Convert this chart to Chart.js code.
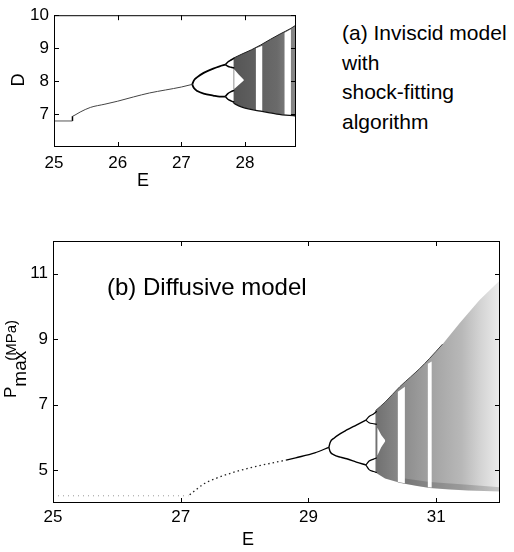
<!DOCTYPE html>
<html>
<head>
<meta charset="utf-8">
<script src="https://cdn.jsdelivr.net/npm/chart.js@4.4.1/dist/chart.umd.min.js"></script>
<style>
  html, body { margin: 0; padding: 0; background: #fff; }
  body { width: 514px; height: 552px; position: relative; overflow: hidden;
         font-family: "Liberation Sans", Arial, sans-serif; color: #000; }
  .wrap { position: absolute; }
  .txt { position: absolute; white-space: nowrap; }
</style>
</head>
<body>
<div class="wrap" style="left:0;top:0;width:300px;height:200px"><canvas id="chartA"></canvas></div>
<div class="wrap" style="left:0;top:220px;width:514px;height:332px"><canvas id="chartB"></canvas></div>

<div class="txt" style="left:342px;top:18px;font-size:21px;line-height:29.5px">(a) Inviscid model<br>with<br>shock-fitting<br>algorithm</div>
<div class="txt" style="left:107px;top:275px;font-size:24px;line-height:24px">(b) Diffusive model</div>
<div class="txt" style="left:143px;top:171px;font-size:18px;line-height:18px;transform:translateX(-50%)">E</div>
<div class="txt" style="left:248px;top:530px;font-size:18px;line-height:18px;transform:translateX(-50%)">E</div>
<div class="txt" style="left:18px;top:80px;font-size:18px;line-height:18px;transform:translate(-50%,-50%) rotate(-90deg)">D</div>
<div class="txt" style="left:0px;top:398px;font-size:17px;line-height:20px;transform-origin:0 0;transform:rotate(-90deg)">P<span style="position:relative;top:10px;font-size:19px">max</span><span style="font-size:15px;margin-left:-10px">(MPa)</span></div>

<script>
// (a) inviscid model, shock-fitting
const aTicksE = [25, 26, 27, 28];
const aTicksD = [7, 8, 9, 10];
const aFlatE = [25.0, 25.29];
const aFlatD = [6.79, 6.79];
const aJumpE = [25.29, 25.29];
const aJumpD = [6.79, 6.93];
const aMainE = [25.29, 25.33, 25.41, 25.57, 25.8, 26.0, 26.25, 26.5, 26.75, 27.0, 27.17];
const aMainD = [6.93, 6.97, 7.06, 7.2, 7.3, 7.39, 7.52, 7.64, 7.73, 7.82, 7.9];
const aP2E = [27.17, 27.2, 27.25, 27.35, 27.5, 27.6, 27.69];
const aP2UpD = [7.9, 8.03, 8.12, 8.25, 8.38, 8.45, 8.5];
const aP2LoD = [7.9, 7.78, 7.7, 7.62, 7.56, 7.53, 7.53];
const aP4E = [27.69, 27.73, 27.78, 27.83];
const aP4UpTopD = [8.5, 8.58, 8.64, 8.7];
const aP4UpBotD = [8.5, 8.45, 8.42, 8.4];
const aP4LoTopD = [7.53, 7.62, 7.68, 7.72];
const aP4LoBotD = [7.53, 7.45, 7.4, 7.36];
const aChaosTopE = [27.82, 27.95, 28.1, 28.24, 28.4, 28.55, 28.72, 28.8];
const aChaosTopD = [8.7, 8.82, 8.95, 9.09, 9.27, 9.43, 9.6, 9.7];
const aChaosBotE = [27.82, 27.9, 28.0, 28.24, 28.5, 28.8];
const aChaosBotD = [7.33, 7.25, 7.18, 7.09, 7.0, 6.94];
const aGapE = [27.83, 27.9, 27.98];
const aGapTopD = [8.36, 8.2, 8.04];
const aGapBotD = [7.76, 7.88, 8.02];
const aWindowE = [[28.17, 28.27], [28.62, 28.72]];
const aWindowTopD = [[9.0, 9.07], [9.47, 9.57]];
const aWindowBotD = [[7.12, 7.09], [6.98, 6.96]];

// (b) diffusive model
const bTicksE = [25, 27, 29, 31];
const bTicksP = [5, 7, 9, 11];
const bFlatE = [25.0, 27.12];
const bFlatP = [4.22, 4.22];
const bRiseE = [27.14, 27.25, 27.35, 27.55, 27.8, 28.1, 28.5, 28.65];
const bRiseP = [4.25, 4.42, 4.57, 4.75, 4.92, 5.08, 5.25, 5.31];
const bMainE = [28.65, 28.8, 29.1, 29.32];
const bMainP = [5.31, 5.38, 5.53, 5.7];
const bP2E = [29.32, 29.34, 29.4, 29.5, 29.6, 29.75, 29.9];
const bP2UpP = [5.7, 5.85, 5.98, 6.12, 6.23, 6.38, 6.53];
const bP2LoP = [5.7, 5.57, 5.47, 5.4, 5.35, 5.25, 5.16];
const bP4E = [29.9, 29.95, 30.02, 30.07];
const bP4UpTopP = [6.53, 6.64, 6.72, 6.8];
const bP4UpBotP = [6.53, 6.45, 6.42, 6.4];
const bP4LoTopP = [5.16, 5.28, 5.34, 5.38];
const bP4LoBotP = [5.16, 5.02, 4.96, 4.93];
const bChaosTopE = [30.05, 30.2, 30.43, 30.6, 30.74, 30.9, 31.1, 31.37, 31.68, 32.0];
const bChaosTopP = [6.82, 7.08, 7.55, 7.85, 8.1, 8.42, 8.85, 9.5, 10.2, 10.8];
const bChaosBotE = [30.05, 30.2, 30.43, 30.7, 30.9, 31.2, 31.5, 32.0];
const bChaosBotP = [4.93, 4.75, 4.62, 4.52, 4.46, 4.41, 4.38, 4.35];
const bEdgeE = [30.05, 30.2, 30.43, 30.6, 30.74, 30.9, 31.1];
const bEdgeP = [6.82, 7.08, 7.55, 7.85, 8.1, 8.42, 8.85];
const bBandE = [30.4, 30.9, 31.5, 32.0];
const bBandTopP = [4.78, 4.64, 4.56, 4.48];
const bBandBotP = [4.62, 4.46, 4.38, 4.35];
const bGapE = [30.08, 30.14, 30.2];
const bGapTopP = [6.3, 6.08, 5.92];
const bGapBotP = [5.45, 5.7, 5.88];
const bWindowE = [[30.4, 30.51], [30.87, 30.93]];
const bWindowTopP = [[7.4, 7.55], [8.25, 8.32]];
const bWindowBotP = [[4.64, 4.6], [4.48, 4.47]];

const FONT = "'Liberation Sans', Arial, sans-serif";

function pts(xs, ys) {
  return xs.map((v, i) => ({ x: v, y: ys[i] }));
}

function poly(topX, topY, botX, botY) {
  return pts(topX, topY).concat(pts(botX, botY).reverse());
}

function curve(data, color, width, extra) {
  return Object.assign({
    data, showLine: true, borderColor: color, borderWidth: width,
    pointRadius: 0, pointHoverRadius: 0, fill: false,
    cubicInterpolationMode: "monotone", order: 1
  }, extra || {});
}

function area(data, color, order) {
  return {
    data, showLine: true, borderWidth: 0, borderColor: "rgba(0,0,0,0)",
    backgroundColor: color, pointRadius: 0, pointHoverRadius: 0,
    fill: "shape", tension: 0, order
  };
}

function hGradient(stops, fallback) {
  return (context) => {
    const chart = context.chart;
    if (!chart.chartArea) return fallback;
    const x = chart.scales.x;
    const x0 = x.getPixelForValue(stops[0][0]);
    const x1 = x.getPixelForValue(stops[stops.length - 1][0]);
    const g = chart.ctx.createLinearGradient(x0, 0, x1, 0);
    stops.forEach(([v, c]) => g.addColorStop((x.getPixelForValue(v) - x0) / (x1 - x0), c));
    return g;
  };
}

const frame = {
  id: "frame",
  afterDraw(chart) {
    const { ctx, chartArea: a, scales: { x, y } } = chart;
    ctx.save();
    ctx.strokeStyle = "#000";
    ctx.lineWidth = 1;
    ctx.strokeRect(a.left + 0.5, a.top + 0.5, a.right - a.left - 1, a.bottom - a.top - 1);
    ctx.beginPath();
    x.ticks.forEach((t) => {
      const px = Math.round(x.getPixelForValue(t.value)) + 0.5;
      ctx.moveTo(px, a.bottom); ctx.lineTo(px, a.bottom - 5);
      ctx.moveTo(px, a.top); ctx.lineTo(px, a.top + 5);
    });
    y.ticks.forEach((t) => {
      const py = Math.round(y.getPixelForValue(t.value)) + 0.5;
      ctx.moveTo(a.left, py); ctx.lineTo(a.left + 5, py);
      ctx.moveTo(a.right, py); ctx.lineTo(a.right - 5, py);
    });
    ctx.stroke();
    ctx.restore();
  }
};

function makeScales(xMin, xMax, xTicks, yMin, yMax, yTicks, yWidth, xHeight, xPad, yPad) {
  const tickFont = { family: FONT, size: 17 };
  return {
    x: {
      type: "linear", min: xMin, max: xMax,
      afterBuildTicks: (s) => { s.ticks = xTicks.map((v) => ({ value: v })); },
      afterFit: (s) => { s.height = xHeight; },
      grid: { display: false, drawTicks: false },
      border: { display: false },
      ticks: { font: tickFont, color: "#000", padding: xPad, maxRotation: 0, autoSkip: false }
    },
    y: {
      type: "linear", min: yMin, max: yMax,
      afterBuildTicks: (s) => { s.ticks = yTicks.map((v) => ({ value: v })); },
      afterFit: (s) => { s.width = yWidth; },
      grid: { display: false, drawTicks: false },
      border: { display: false },
      ticks: { font: tickFont, color: "#000", padding: yPad, autoSkip: false }
    }
  };
}

const baseOptions = {
  responsive: true,
  maintainAspectRatio: false,
  animation: false,
  events: [],
  plugins: { legend: { display: false }, tooltip: { enabled: false } }
};

const aWindows = aWindowE.map((e, i) => area(poly(e, aWindowTopD[i], e, aWindowBotD[i]), "#ffffff", 5));

new Chart(document.getElementById("chartA"), {
  type: "scatter",
  data: {
    datasets: [
      curve(pts(aFlatE, aFlatD), "#555", 1),
      curve(pts(aJumpE, aJumpD), "#000", 1.5),
      curve(pts(aMainE, aMainD), "#444", 1),
      curve(pts(aP2E, aP2UpD), "#000", 1.8),
      curve(pts(aP2E, aP2LoD), "#000", 1.8),
      curve(pts(aP4E, aP4UpTopD), "#000", 1.5),
      curve(pts(aP4E, aP4UpBotD), "#000", 1.5),
      curve(pts(aP4E, aP4LoTopD), "#000", 1.5),
      curve(pts(aP4E, aP4LoBotD), "#000", 1.5),
      curve(pts(aChaosTopE, aChaosTopD), "#222", 1, { order: 3 }),
      curve(pts(aChaosBotE, aChaosBotD), "#111", 1.3, { order: 3 }),
      area(poly(aChaosTopE, aChaosTopD, aChaosBotE, aChaosBotD),
        hGradient([[27.82, "#555"], [28.5, "#6a6a6a"], [28.8, "#8a8a8a"]], "#666"), 10),
      area(poly(aGapE, aGapTopD, aGapE, aGapBotD), "#ffffff", 5),
      ...aWindows
    ]
  },
  options: Object.assign({}, baseOptions, {
    layout: { padding: { top: 13, right: 4, left: 0, bottom: 0 } },
    scales: makeScales(25, 28.8, aTicksE, 6, 10, aTicksD, 54, 53, 6, 5)
  }),
  plugins: [frame]
});

const bWindows = bWindowE.map((e, i) => area(poly(e, bWindowTopP[i], e, bWindowBotP[i]), "#ffffff", 5));

new Chart(document.getElementById("chartB"), {
  type: "scatter",
  data: {
    datasets: [
      curve(pts(bFlatE, bFlatP), "#999", 1, { borderDash: [1, 4] }),
      curve(pts(bRiseE, bRiseP), "#222", 1.3, { borderDash: [1.5, 3] }),
      curve(pts(bMainE, bMainP), "#000", 1.3),
      curve(pts(bP2E, bP2UpP), "#000", 1.4),
      curve(pts(bP2E, bP2LoP), "#000", 1.4),
      curve(pts(bP4E, bP4UpTopP), "#000", 1.2),
      curve(pts(bP4E, bP4UpBotP), "#000", 1.2),
      curve(pts(bP4E, bP4LoTopP), "#000", 1.2),
      curve(pts(bP4E, bP4LoBotP), "#000", 1.2),
      curve(pts(bEdgeE, bEdgeP), "#444", 1, { order: 3 }),
      area(poly(bChaosTopE, bChaosTopP, bChaosBotE, bChaosBotP),
        hGradient([[30.05, "#707070"], [30.45, "#8a8a8a"], [30.9, "#a2a2a2"], [31.4, "#b8b8b8"], [31.7, "#d4d4d4"], [32.0, "#ececec"]], "#999"), 10),
      area(poly(bBandE, bBandTopP, bBandE, bBandBotP), "rgba(0,0,0,0.16)", 8),
      area(poly(bGapE, bGapTopP, bGapE, bGapBotP), "#ffffff", 5),
      ...bWindows
    ]
  },
  options: Object.assign({}, baseOptions, {
    layout: { padding: { top: 21, right: 14, left: 0, bottom: 0 } },
    scales: makeScales(25, 32, bTicksE, 4, 12, bTicksP, 53, 49, 4, 5)
  }),
  plugins: [frame]
});
</script>
</body>
</html>
